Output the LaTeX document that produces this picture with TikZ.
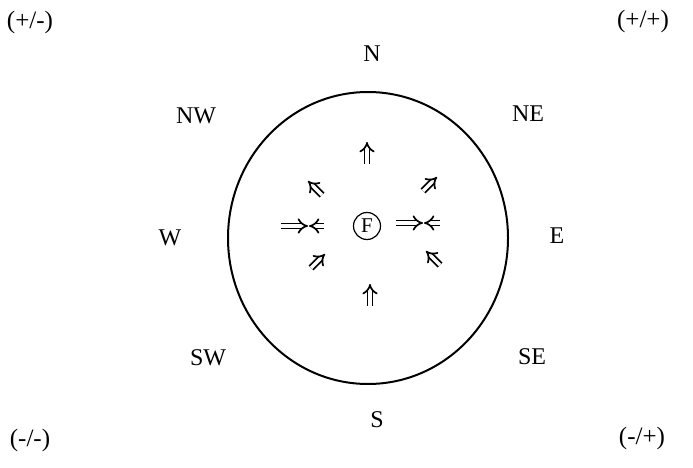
\documentclass[tikz,border=0pt]{standalone}
\usepackage{fontspec}
\setmainfont{Liberation Serif}
\usetikzlibrary{arrows.meta}
\begin{document}
\begin{tikzpicture}[x=1pt,y=-1pt,
  lbl/.style={font=\fontsize{24}{28}\selectfont, inner sep=0pt},
  quad/.style={font=\fontsize{25}{28}\selectfont, inner sep=0pt},
  darr/.style={double, double distance=3.4pt, line width=1.7pt, -{Implies[scale=1.3]}},
  fnode/.style={circle, draw, line width=1.2pt, inner sep=0pt, minimum size=27pt, font=\fontsize{21}{24}\selectfont}]
\useasboundingbox (0,0) rectangle (693,468);
% quadrant labels
\node[quad] (pm) at (30,22) {(+/-)};
\node[quad] (pp) at (643,21) {(+/+)};
\node[quad] (mm) at (30,440) {(-/-)};
\node[quad] (mp) at (642,438) {(-/+)};
% compass labels
\node[lbl] (n) at (372,54) {N};
\node[lbl] (ne) at (528,114) {NE};
\node[lbl] (e) at (557,236) {E};
\node[lbl] (se) at (532,357) {SE};
\node[lbl] (s) at (377,420) {S};
\node[lbl] (sw) at (208,358) {SW};
\node[lbl] (w) at (170,238) {W};
\node[lbl] (nw) at (196,116) {NW};
% circle
\draw[line width=2pt] (368,238) ellipse [x radius=140pt, y radius=146pt];
% centre F
\node[fnode] (f) at (367,226) {F};
% double arrows
\coordinate (u1a) at (367,164); \coordinate (u1b) at (367,142);
\coordinate (u2a) at (370,306); \coordinate (u2b) at (370,284);
\coordinate (a1a) at (322,195); \coordinate (a1b) at (308,181);
\coordinate (a2a) at (423,191); \coordinate (a2b) at (437,177);
\coordinate (a3a) at (311,268); \coordinate (a3b) at (325,254);
\coordinate (a4a) at (440,265); \coordinate (a4b) at (426,251);
\coordinate (l1a) at (281,226); \coordinate (l1b) at (308,226);
\coordinate (l2a) at (324,226); \coordinate (l2b) at (309,226);
\coordinate (r1a) at (396,223); \coordinate (r1b) at (423,223);
\coordinate (r2a) at (440,223); \coordinate (r2b) at (424,223);
\draw[darr] (u1a) -- (u1b);
\draw[darr] (u2a) -- (u2b);
\draw[darr] (a1a) -- (a1b);
\draw[darr] (a2a) -- (a2b);
\draw[darr] (a3a) -- (a3b);
\draw[darr] (a4a) -- (a4b);
\draw[darr] (l1a) -- (l1b);
\draw[darr] (l2a) -- (l2b);
\draw[darr] (r1a) -- (r1b);
\draw[darr] (r2a) -- (r2b);
\end{tikzpicture}
\end{document}
